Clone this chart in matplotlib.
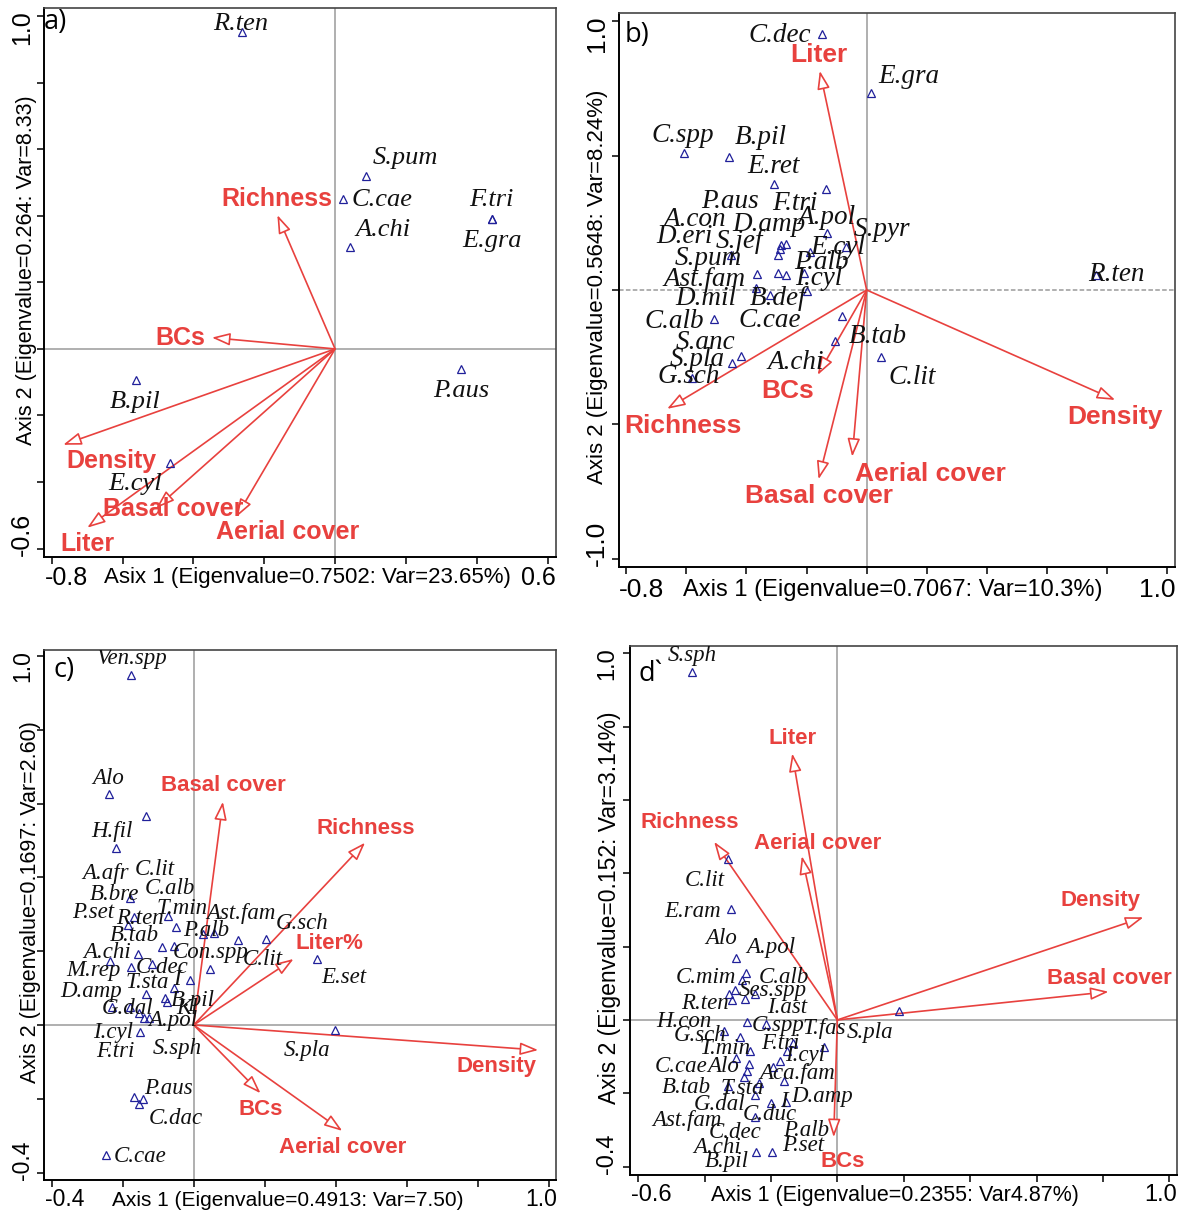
import matplotlib
matplotlib.use("Agg")
import matplotlib.pyplot as plt
import numpy as np

# ---------------------------------------------------------------- data
# Panel a: species scores and environmental vectors
a_species = ["R.ten", "S.pum", "C.cae", "A.chi", "F.tri", "E.gra", "B.pil", "E.cyl", "P.aus"]
a_sx = [-0.263, 0.088, 0.021, 0.042, 0.444, 0.444, -0.562, -0.465, 0.356]
a_sy = [0.952, 0.520, 0.450, 0.306, 0.390, 0.390, -0.093, -0.343, -0.060]
a_vars = ["Richness", "BCs", "Density", "Liter", "Basal cover", "Aerial cover"]
a_vx = [-0.163, -0.348, -0.768, -0.700, -0.505, -0.279]
a_vy = [0.402, 0.034, -0.288, -0.537, -0.478, -0.505]

# Panel b
b_species = ["C.dec", "E.gra", "C.spp", "B.pil", "E.ret", "F.tri", "A.pol", "S.pyr",
             "D.amp", "P.aus", "S.jef", "A.con", "E.cyl", "S.pum", "Ast.fam", "D.eri",
             "C.cae", "I.cyl", "D.mil", "B.def", "P.alb", "R.ten", "B.tab", "C.alb",
             "A.chi", "C.lit", "S.anc", "S.pla", "G.sch"]
b_sx = [-0.148, 0.016, -0.609, -0.458, -0.307, -0.136, -0.131, -0.068,
        -0.286, -0.269, -0.287, -0.296, -0.188, -0.453, -0.366, -0.294,
        -0.269, -0.210, -0.367, -0.322, -0.197, 0.764, -0.081, -0.507,
        -0.106, 0.048, -0.417, -0.447, -0.582]
b_sy = [0.952, 0.731, 0.509, 0.496, 0.393, 0.375, 0.211, 0.161,
        0.167, 0.171, 0.151, 0.130, 0.140, 0.130, 0.059, 0.064,
        0.057, 0.062, 0.006, -0.019, -0.004, 0.056, -0.095, -0.108,
        -0.190, -0.250, -0.244, -0.273, -0.328]
b_vars = ["Liter", "Density", "Richness", "BCs", "Basal cover", "Aerial cover"]
b_vx = [-0.156, 0.827, -0.664, -0.163, -0.160, -0.048]
b_vy = [0.815, -0.409, -0.442, -0.316, -0.704, -0.620]

# Panel c
c_species = ["Ven.spp", "Alo", "C.lit", "H.fil", "A.afr", "T.min", "R.ten", "P.alb",
             "B.bre", "P.set", "", "Ast.fam", "G.sch", "C.alb", "Con.spp", "B.tab",
             "A.chi", "M.rep", "C.dec", "E.set", "C.lit", "I", "S.sph", "T.sta",
             "B.pil", "Kl", "D.amp", "G.dal", "", "F.tri", "A.pol", "I.cyl",
             "S.pla", "P.aus", "", "C.dac", "C.cae"]
c_sx = [-0.177, -0.237, -0.135, -0.219, -0.178, -0.072, -0.169, -0.051,
        -0.185, 0.026, 0.058, 0.124, 0.204, -0.088, -0.055, -0.156,
        -0.235, -0.177, -0.116, 0.347, 0.046, -0.011, -0.056, -0.134,
        -0.082, -0.076, -0.231, -0.180, -0.153, -0.140, -0.127, -0.151,
        0.397, -0.167, -0.143, -0.153, -0.246]
c_sy = [0.949, 0.625, 0.565, 0.480, 0.343, 0.295, 0.293, 0.265,
        0.271, 0.246, 0.249, 0.230, 0.232, 0.211, 0.214, 0.192,
        0.173, 0.158, 0.164, 0.179, 0.152, 0.122, 0.099, 0.084,
        0.072, 0.063, 0.048, 0.050, 0.032, 0.018, 0.018, -0.018,
        -0.014, -0.194, -0.201, -0.214, -0.352]
c_vars = ["Basal cover", "Richness", "Liter%", "Density", "BCs", "Aerial cover"]
c_vx = [0.082, 0.482, 0.281, 0.969, 0.188, 0.418]
c_vy = [0.605, 0.494, 0.179, -0.068, -0.185, -0.287]

# Panel d
d_species = ["S.sph", "C.lit", "E.ram", "Alo", "A.pol", "C.mim", "", "",
             "R.ten", "C.alb", "Ses.spp", "I.ast", "C.spp", "H.con", "G.sch", "F.tri",
             "T.fas", "T.min", "I.cyl", "C.cae", "Aca.fam", "Alo", "A.chi", "Ast.fam",
             "T.sta", "D.amp", "C.dec", "B.tab", "G.dal", "I", "P.alb", "C.duc",
             "S.pla", "B.pil", "P.set"]
d_sx = [-0.438, -0.328, -0.321, -0.305, -0.274, -0.286, -0.308, -0.325,
        -0.317, -0.278, -0.249, -0.272, -0.214, -0.340, -0.294, -0.133,
        -0.040, -0.263, -0.152, -0.305, -0.173, -0.265, -0.195, -0.271,
        -0.280, -0.161, -0.237, -0.329, -0.249, -0.201, -0.155, -0.248,
        0.185, -0.244, -0.197]
d_sy = [0.948, 0.439, 0.303, 0.168, 0.127, 0.109, 0.082, 0.071,
        0.055, 0.057, 0.070, -0.005, -0.012, -0.030, -0.046, -0.064,
        -0.073, -0.085, -0.086, -0.104, -0.112, -0.121, -0.127, -0.139,
        -0.155, -0.166, -0.171, -0.180, -0.206, -0.227, -0.224, -0.264,
        0.025, -0.359, -0.361]
d_vars = ["Liter", "Richness", "Aerial cover", "Density", "Basal cover", "BCs"]
d_vx = [-0.136, -0.371, -0.107, 0.922, 0.817, -0.011]
d_vy = [0.727, 0.486, 0.447, 0.280, 0.077, -0.320]

# axis texts
a_xtitle = "Asix 1 (Eigenvalue=0.7502: Var=23.65%)"
a_ytitle = "Axis 2 (Eigenvalue=0.264: Var=8.33)"
b_xtitle = "Axis 1 (Eigenvalue=0.7067: Var=10.3%)"
b_ytitle = "Axis 2 (Eigenvalue=0.5648: Var=8.24%)"
c_xtitle = "Axis 1 (Eigenvalue=0.4913: Var=7.50)"
c_ytitle = "Axis 2 (Eigenvalue=0.1697: Var=2.60)"
d_xtitle = "Axis 1 (Eigenvalue=0.2355: Var4.87%)"
d_ytitle = "Axis 2 (Eigenvalue=0.152: Var=3.14%)"

# ---------------------------------------------------------------- layout
W, H = 1186, 1214
RED = "#e8413e"
NAVY = "#20209a"
SERIF = "Liberation Serif"
SANS = "Liberation Sans"

# label offsets in pixels (right, down) from the point / arrow tip
a_lab_off = [(-1, -8), (39, -18), (40, 1), (33, -17), (-1, -19), (0, 22), (-1, 22), (-35, 21), (0, 22)]
a_var_off = [(0, -16), (-32, 0), (48, 16), (0, 16), (17, 1), (51, 15)]

b_lab_off = [(-42, 1), (37, -17), (-1, -18), (32, -19), (-1, -18), (-31, 14), (-1, -16), (36, -17),
             (-12, -21), (-56, -43), (-41, -8), (-83, -36), (28, -5), (-22, 3), (-52, 5), (-94, -36),
             (-16, 46), (15, 5), (-51, 10), (8, 3), (14, -29), (20, 0), (36, 21), (-40, 2),
             (-39, 21), (31, 20), (-36, -13), (-35, -4), (-3, -2)]
b_var_off = [(-1, -16), (0, 17), (16, 17), (-30, 16), (0, 17), (78, 17)]

c_lab_off = [(1, -16), (-1, -16), (9, 53), (-4, -16), (-25, -25), (14, -8), (6, 2), (31, 3),
             (-13, -30), (-110, -22), (0, 0), (3, -27), (36, -16), (7, -59), (36, 6), (-4, -19),
             (-3, -9), (-37, 4), (10, 3), (27, 19), (53, -9), (-13, 0), (3, 60), (1, -11),
             (28, 2), (20, 7), (-20, -16), (-2, 2), (0, 0), (-29, 33), (24, 2), (-27, 1),
             (-28, 20), (34, -8), (0, 0), (36, 15), (34, 2)]
c_var_off = [(1, -16), (1, -14), (36, -15), (-42, 16), (0, 16), (0, 17)]

d_lab_off = [(0, -17), (-24, 21), (-38, 3), (-15, -20), (24, -26), (-36, -2), (0, 0), (0, 0),
             (-27, 4), (39, -22), (18, -4), (40, -14), (12, 1), (-41, -9), (-40, -1), (-13, 0),
             (0, -18), (-25, -3), (18, 4), (-55, 8), (17, 12), (-26, 2), (-55, 81), (-60, 50),
             (-2, 12), (38, 16), (-24, 50), (-42, 2), (-35, 9), (13, -2), (20, 28), (15, -2),
             (-29, 22), (-30, 10), (31, -7)]
d_var_off = [(0, -15), (-24, -19), (16, -13), (-43, -17), (1, -13), (9, 24)]

panels = [
    dict(rect=(43.7, 8.3, 556, 557), xlim=(-0.823, 0.624), ylim=(-0.625, 1.023),
         xt=np.arange(-0.8, 0.61, 0.2), yt=np.arange(-0.6, 1.01, 0.2),
         xlab=("-0.8", "0.6"), ylab=("1.0", "-0.6"),
         xtitle=a_xtitle, ytitle=a_ytitle, letter="a)", letter_off=(12, -14),
         sp=(a_species, a_sx, a_sy, a_lab_off), vec=(a_vars, a_vx, a_vy, a_var_off),
         fs_sp=19, fs_var=18, fs_tick=18, fs_xt=16, fs_yt=15.5,
         xlab_dy=21, ytitle_dx=-17, xtitle_dx=8, ytitle_dy=12, hdash=False),
    dict(rect=(619, 13.3, 1175, 566.7), xlim=(-0.824, 1.026), ylim=(-1.029, 1.029),
         xt=np.arange(-0.8, 1.01, 0.2), yt=np.arange(-1.0, 1.01, 0.5),
         xlab=("-0.8", "1.0"), ylab=("1.0", "-1.0"),
         xtitle=b_xtitle, ytitle=b_ytitle, letter="b)", letter_off=(18, -22),
         sp=(b_species, b_sx, b_sy, b_lab_off), vec=(b_vars, b_vx, b_vy, b_var_off),
         fs_sp=19.5, fs_var=19, fs_tick=19, fs_xt=17, fs_yt=16,
         xlab_dy=23, ytitle_dx=-21, xtitle_dx=-4, ytitle_dy=3, hdash=True),
    dict(rect=(44.4, 650, 556, 1180), xlim=(-0.420, 1.019), ylim=(-0.420, 1.016),
         xt=np.arange(-0.4, 1.01, 0.2), yt=np.arange(-0.4, 1.01, 0.2),
         xlab=("-0.4", "1.0"), ylab=("1.0", "-0.4"),
         xtitle=c_xtitle, ytitle=c_ytitle, letter="c)", letter_off=(20, -20),
         sp=(c_species, c_sx, c_sy, c_lab_off), vec=(c_vars, c_vx, c_vy, c_var_off),
         fs_sp=16.5, fs_var=16, fs_tick=16.5, fs_xt=15, fs_yt=15.5,
         xlab_dy=20, ytitle_dx=-14, xtitle_dx=-12, ytitle_dy=13, hdash=False),
    dict(rect=(629.5, 645.7, 1177, 1175), xlim=(-0.626, 1.023), ylim=(-0.423, 1.021),
         xt=np.arange(-0.6, 1.01, 0.2), yt=np.arange(-0.4, 1.01, 0.2),
         xlab=("-0.6", "1.0"), ylab=("1.0", "-0.4"),
         xtitle=d_xtitle, ytitle=d_ytitle, letter="d`", letter_off=(21, -28),
         sp=(d_species, d_sx, d_sy, d_lab_off), vec=(d_vars, d_vx, d_vy, d_var_off),
         fs_sp=16.5, fs_var=16, fs_tick=17, fs_xt=15.5, fs_yt=16.5,
         xlab_dy=20, ytitle_dx=-20, xtitle_dx=-8, ytitle_dy=3, hdash=False),
]


def draw_panel(fig, p):
    l, t, r, b = p["rect"]
    ax = fig.add_axes([l / W, 1 - b / H, (r - l) / W, (b - t) / H])
    ax.set_xlim(*p["xlim"])
    ax.set_ylim(*p["ylim"])

    # zero reference lines
    ax.axvline(0, color="#9a9a9a", lw=1.1, zorder=1)
    ax.axhline(0, color="#9a9a9a", lw=1.1, zorder=1,
               ls=(0, (3, 1.5)) if p["hdash"] else "-")

    # environmental vectors
    names, vx, vy, voff = p["vec"]
    for name, x, y, (dx, dy) in zip(names, vx, vy, voff):
        ax.annotate("", xy=(x, y), xytext=(0, 0),
                    arrowprops=dict(arrowstyle="-|>,head_length=1.1,head_width=0.38",
                                    mutation_scale=10, shrinkA=0, shrinkB=0,
                                    fc="white", ec=RED, lw=1.2), zorder=3)
        ax.annotate(name, xy=(x, y), xytext=(dx, -dy), textcoords="offset pixels",
                    ha="center", va="center", color=RED, fontweight="bold",
                    fontfamily=SANS, fontsize=p["fs_var"], zorder=4)

    # species scores
    sp, sx, sy, soff = p["sp"]
    ax.plot(sx, sy, ls="none", marker="^", ms=5.5, mfc="none", mec=NAVY, mew=0.9, zorder=5)
    for name, x, y, (dx, dy) in zip(sp, sx, sy, soff):
        if name:
            ax.annotate(name, xy=(x, y), xytext=(dx, -dy), textcoords="offset pixels",
                        ha="center", va="center", fontfamily=SERIF, fontstyle="italic",
                        fontsize=p["fs_sp"], color="#111111", clip_on=True, zorder=6)

    # frame and ticks
    for side in ("left", "bottom"):
        ax.spines[side].set_color("black")
        ax.spines[side].set_linewidth(1.4)
    for side in ("top", "right"):
        ax.spines[side].set_color("#444444")
        ax.spines[side].set_linewidth(1.2)
    ax.set_xticks(np.round(p["xt"], 2))
    ax.set_yticks(np.round(p["yt"], 2))
    ax.set_xticklabels([])
    ax.set_yticklabels([])
    ax.tick_params(direction="out", length=5, width=1.1, color="black")

    xt = np.round(p["xt"], 2)
    yt = np.round(p["yt"], 2)
    dy = p["xlab_dy"]
    ax.annotate(p["xlab"][0], xy=(xt[0], 0), xycoords=("data", "axes fraction"),
                xytext=(-7, -dy), textcoords="offset pixels", ha="left", va="center",
                fontfamily=SANS, fontsize=p["fs_tick"])
    ax.annotate(p["xlab"][1], xy=(xt[-1], 0), xycoords=("data", "axes fraction"),
                xytext=(8, -dy), textcoords="offset pixels", ha="right", va="center",
                fontfamily=SANS, fontsize=p["fs_tick"])
    ax.annotate(p["ylab"][0], xy=(0, yt[-1]), xycoords=("axes fraction", "data"),
                xytext=(-22, 6), textcoords="offset pixels", ha="center", va="top",
                rotation=90, fontfamily=SANS, fontsize=p["fs_tick"])
    ax.annotate(p["ylab"][1], xy=(0, yt[0]), xycoords=("axes fraction", "data"),
                xytext=(-22, -7), textcoords="offset pixels", ha="center", va="bottom",
                rotation=90, fontfamily=SANS, fontsize=p["fs_tick"])

    # axis titles sit on the tick label line
    ax.annotate(p["xtitle"], xy=(0.5, 0), xycoords="axes fraction",
                xytext=(p["xtitle_dx"], -dy), textcoords="offset pixels",
                ha="center", va="center", fontfamily=SANS, fontsize=p["fs_xt"])
    ax.annotate(p["ytitle"], xy=(0, 0.5), xycoords="axes fraction",
                xytext=(p["ytitle_dx"], p["ytitle_dy"]), textcoords="offset pixels",
                ha="center", va="center", rotation=90, fontfamily=SANS, fontsize=p["fs_yt"])

    # panel letter
    ax.annotate(p["letter"], xy=(0, 1), xycoords="axes fraction",
                xytext=p["letter_off"], textcoords="offset pixels",
                ha="center", va="center", fontfamily="Open Sans", fontsize=19.5)
    return ax


fig = plt.figure(figsize=(W / 100, H / 100), dpi=100)
for p in panels:
    draw_panel(fig, p)
fig.savefig("out.png", dpi=100, facecolor="white")
